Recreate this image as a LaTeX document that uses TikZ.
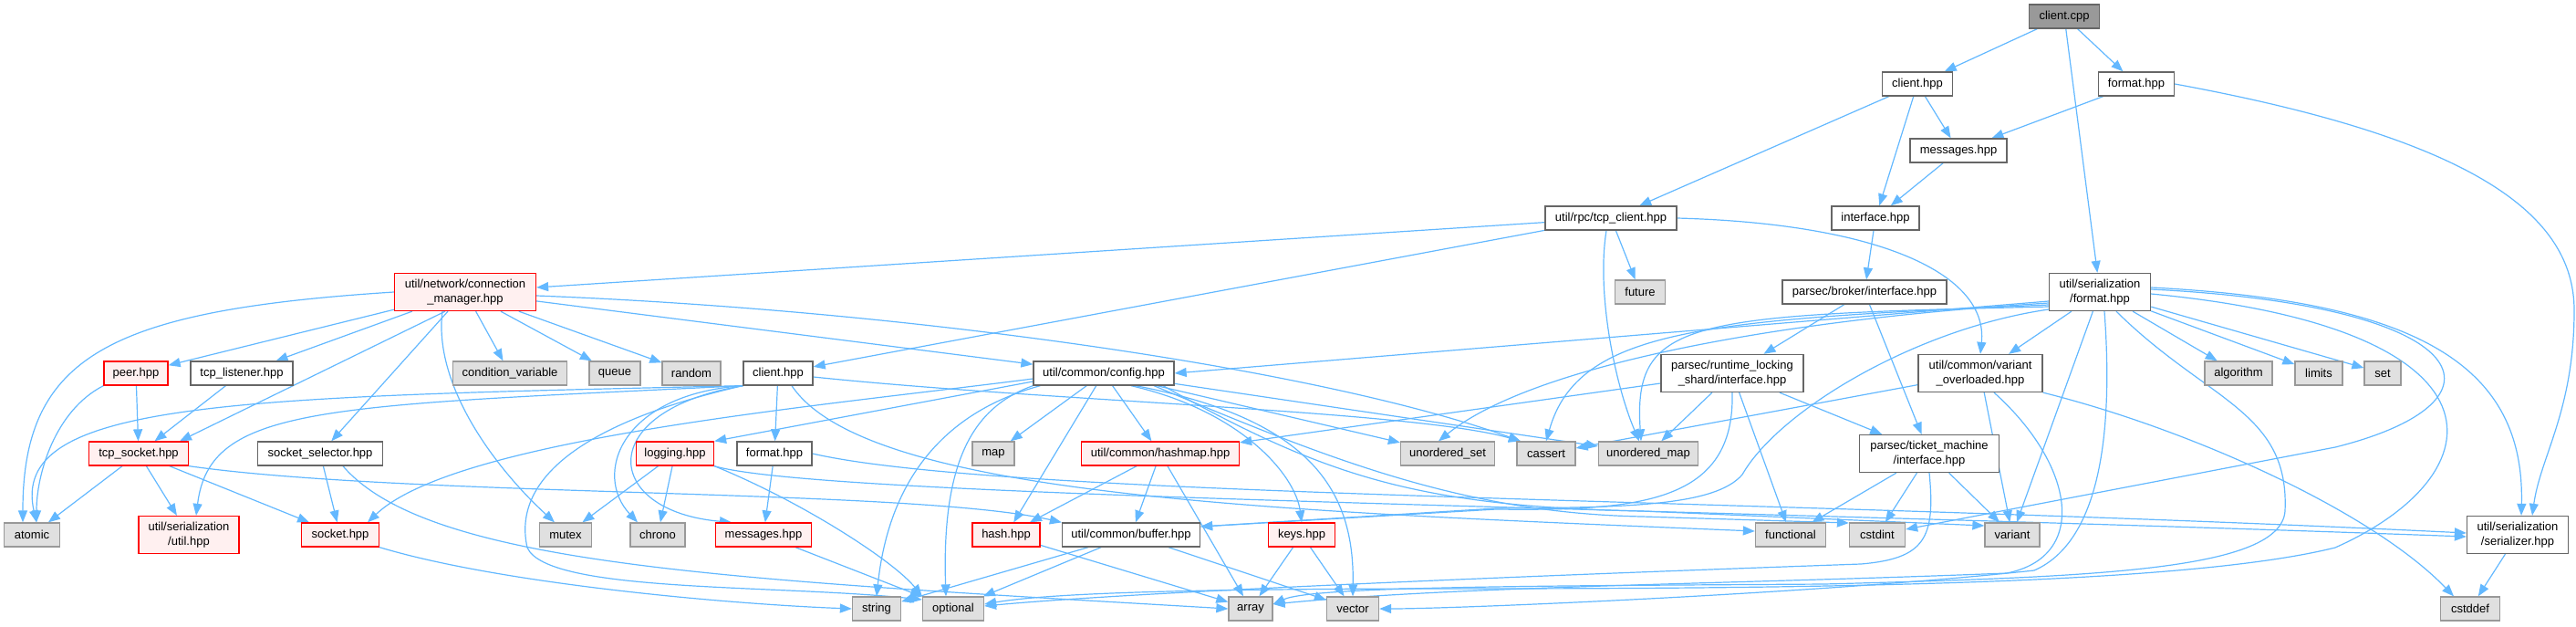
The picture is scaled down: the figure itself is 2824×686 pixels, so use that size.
\documentclass[tikz,border=0pt]{standalone}
\usepackage{fontspec}
\setmainfont{Liberation Sans}
\usetikzlibrary{arrows.meta}
\definecolor{edgec}{HTML}{63B8FF}
\definecolor{nborder}{HTML}{666666}
\definecolor{gborder}{HTML}{999999}
\definecolor{gfill}{HTML}{E0E0E0}
\definecolor{rfill}{HTML}{FFF0F0}
\definecolor{rborder}{HTML}{FF0000}
\definecolor{rootfill}{HTML}{999999}
\pgfdeclarelayer{bg}
\pgfsetlayers{bg,main}
\begin{document}
\begin{tikzpicture}[x=1pt,y=-1pt,
  base/.style={draw, line width=1.3pt, font=\fontsize{13}{16}\selectfont, inner sep=2pt, minimum height=26pt, align=center, anchor=center},
  plainbox/.style={base, draw=nborder, fill=white},
  redbox/.style={base, draw=rborder, fill=rfill},
  sysbox/.style={base, draw=gborder, fill=gfill},
  rootbox/.style={base, draw=nborder, fill=rootfill},
  tall/.style={minimum height=41pt},
  edge/.style={draw=edgec, line width=1.2pt, -{Triangle[length=13pt,width=10pt]}},
]
\useasboundingbox (0,0) rectangle (2824,686);
% nodes
\node[rootbox, minimum width=77pt] (cpp) at (2263,18) {client.cpp};
\node[plainbox, minimum width=77pt] (chtop) at (2102,92) {client.hpp};
\node[plainbox, minimum width=83pt] (fmttop) at (2342,92) {format.hpp};
\node[plainbox, minimum width=106pt] (msgtop) at (2147,165) {messages.hpp};
\node[plainbox, minimum width=144pt] (tcpc) at (1766,239) {util/rpc/tcp\_client.hpp};
\node[plainbox, minimum width=96pt] (iface) at (2056,239) {interface.hpp};
\node[redbox, tall, minimum width=155pt] (connmgr) at (510,320) {util/network/connection\\\_manager.hpp};
\node[sysbox, minimum width=55pt] (future) at (1798,320) {future};
\node[plainbox, minimum width=180pt] (broker) at (2044,320) {parsec/broker/interface.hpp};
\node[plainbox, tall, minimum width=111pt] (serfmt) at (2302,320) {util/serialization\\/format.hpp};
\node[redbox, minimum width=70pt] (peer) at (149,409) {peer.hpp};
\node[plainbox, minimum width=112pt] (tcpl) at (265,409) {tcp\_listener.hpp};
\node[sysbox, minimum width=125pt] (condvar) at (559,409) {condition\_variable};
\node[sysbox, minimum width=56pt] (queue) at (674,409) {queue};
\node[sysbox, minimum width=64pt] (random) at (758,409) {random};
\node[plainbox, minimum width=76pt] (chmid) at (853,409) {client.hpp};
\node[plainbox, minimum width=154pt] (config) at (1210,409) {util/common/config.hpp};
\node[plainbox, tall, minimum width=156pt] (rls) at (1899,409) {parsec/runtime\_locking\\\_shard/interface.hpp};
\node[plainbox, tall, minimum width=136pt] (varov) at (2171,409) {util/common/variant\\\_overloaded.hpp};
\node[sysbox, minimum width=74pt] (algorithm) at (2454,409) {algorithm};
\node[sysbox, minimum width=52pt] (limits) at (2542,409) {limits};
\node[sysbox, minimum width=40pt] (set) at (2612,409) {set};
\node[redbox, minimum width=109pt] (tcpsock) at (152,497) {tcp\_socket.hpp};
\node[plainbox, minimum width=137pt] (socksel) at (351,497) {socket\_selector.hpp};
\node[redbox, minimum width=85pt] (logging) at (740,497) {logging.hpp};
\node[plainbox, minimum width=82pt] (fmtmid) at (849,497) {format.hpp};
\node[sysbox, minimum width=46pt] (map) at (1089,497) {map};
\node[redbox, minimum width=173pt] (hashmap) at (1272,497) {util/common/hashmap.hpp};
\node[sysbox, minimum width=103pt] (uset) at (1587,497) {unordered\_set};
\node[sysbox, minimum width=64pt] (cassert) at (1695,497) {cassert};
\node[sysbox, minimum width=109pt] (umap) at (1807,497) {unordered\_map};
\node[plainbox, tall, minimum width=153pt] (ticket) at (2115,497) {parsec/ticket\_machine\\/interface.hpp};
\node[sysbox, minimum width=61pt] (atomic) at (35,586) {atomic};
\node[redbox, tall, minimum width=110pt] (serutil) at (207,586) {util/serialization\\/util.hpp};
\node[redbox, minimum width=85pt] (socket) at (373,586) {socket.hpp};
\node[sysbox, minimum width=57pt] (mutex) at (620,586) {mutex};
\node[sysbox, minimum width=60pt] (chrono) at (721,586) {chrono};
\node[redbox, minimum width=105pt] (msgmid) at (837,586) {messages.hpp};
\node[redbox, minimum width=74pt] (hash) at (1103,586) {hash.hpp};
\node[plainbox, minimum width=151pt] (buffer) at (1240,586) {util/common/buffer.hpp};
\node[redbox, minimum width=73pt] (keys) at (1427,586) {keys.hpp};
\node[sysbox, minimum width=77pt] (functional) at (1963,586) {functional};
\node[sysbox, minimum width=61pt] (cstdint) at (2058,586) {cstdint};
\node[sysbox, minimum width=60pt] (variant) at (2206,586) {variant};
\node[plainbox, tall, minimum width=111pt] (serializer) at (2760,586) {util/serialization\\/serializer.hpp};
\node[sysbox, minimum width=53pt] (string) at (961,667) {string};
\node[sysbox, minimum width=67pt] (optional) at (1045,667) {optional};
\node[sysbox, minimum width=48pt] (array) at (1371,667) {array};
\node[sysbox, minimum width=57pt] (vector) at (1483,667) {vector};
\node[sysbox, minimum width=65pt] (cstddef) at (2708,667) {cstddef};

\begin{pgfonlayer}{bg}
% top
\draw[edge] (cpp) -- (chtop);
\draw[edge] (cpp) -- (fmttop);
\draw[edge] (cpp) -- (serfmt);
\draw[edge] (chtop) -- (tcpc);
\draw[edge] (chtop) -- (msgtop);
\draw[edge] (chtop) -- (iface);
\draw[edge] (fmttop) -- (msgtop);
\draw[edge] (fmttop.east) .. controls (2700,150) and (2822,230) .. (2822,340) .. controls (2822,450) and (2785,500) .. ([xshift=16pt]serializer.north);
\draw[edge] (msgtop) -- (iface);
\draw[edge] (iface) -- (broker);
% tcp_client
\draw[edge] (tcpc) -- (connmgr);
\draw[edge] (tcpc) -- (chmid);
\draw[edge] (tcpc) -- (future);
\draw[edge] ([xshift=-5pt]tcpc.south) .. controls (1750,320) and (1770,420) .. ([xshift=-10pt]umap.north);
\draw[edge] (tcpc.east) .. controls (2060,245) and (2180,300) .. (varov.north);
% broker
\draw[edge] (broker) -- (rls);
\draw[edge] (broker) -- (ticket);
% connection manager
\draw[edge] (connmgr.west) .. controls (120,340) and (25,390) .. ([xshift=-10pt]atomic.north);
\draw[edge] (connmgr) -- (peer);
\draw[edge] (connmgr) -- (tcpl);
\draw[edge] ([xshift=-22pt]connmgr.south) -- ([xshift=45pt]tcpsock.north);
\draw[edge] (connmgr) -- (socksel);
\draw[edge] ([xshift=-25pt]connmgr.south) .. controls (475,420) and (540,510) .. ([xshift=-12pt]mutex.north);
\draw[edge] (connmgr) -- (condvar);
\draw[edge] (connmgr) -- (queue);
\draw[edge] (connmgr) -- (random);
\draw[edge] (connmgr) -- (config);
\draw[edge] ([yshift=-4pt]connmgr.east) .. controls (1000,340) and (1450,405) .. ([xshift=-28pt]cassert.north);
% peer, listener, tcp socket
\draw[edge] (peer) -- (tcpsock);
\draw[edge] (peer.south west) .. controls (60,450) and (40,520) .. ([xshift=5pt]atomic.north);
\draw[edge] (tcpl) -- (tcpsock);
\draw[edge] (tcpsock) -- (atomic);
\draw[edge] (tcpsock) -- (serutil);
\draw[edge] (tcpsock) -- (socket);
\draw[edge] (tcpsock.south east) .. controls (450,545) and (1000,535) .. (buffer.north west);
% socket selector, socket
\draw[edge] (socksel) -- (socket);
\draw[edge] ([xshift=25pt]socksel.south) .. controls (470,620) and (800,635) .. (array.west);
\draw[edge] (socket.south east) .. controls (550,640) and (800,662) .. (string.west);
% rpc client.hpp
\draw[edge] (chmid) -- (fmtmid);
\draw[edge] (chmid.south west) .. controls (650,450) and (660,560) .. ([xshift=-35pt]msgmid.north);
\draw[edge] (chmid.south west) .. controls (680,432) and (650,520) .. ([xshift=-22pt]chrono.north);
\draw[edge] (chmid.south west) .. controls (650,460) and (560,520) .. (578,600) .. controls (600,650) and (850,640) .. ([yshift=10pt]optional.west);
\draw[edge] (chmid.south west) .. controls (250,435) and (10,440) .. ([xshift=5pt]atomic.north);
\draw[edge] (chmid.south west) .. controls (350,445) and (230,445) .. ([xshift=8pt]serutil.north);
\draw[edge] ([yshift=-4pt]chmid.east) .. controls (1150,440) and (1550,450) .. ([xshift=-28pt]cassert.north);
\draw[edge] ([xshift=15pt]chmid.south) .. controls (950,545) and (1400,560) .. ([yshift=4pt]functional.west);
% config
\draw[edge] ([yshift=-6pt]config.west) .. controls (900,445) and (500,480) .. ([xshift=30pt]socket.north);
\draw[edge] ([yshift=-9pt]config.west) -- (logging.north east);
\draw[edge] ([xshift=8pt]config.south west) .. controls (1040,450) and (975,520) .. (string.north);
\draw[edge] (config.south west) .. controls (1070,445) and (1032,500) .. ([xshift=-8pt]optional.north);
\draw[edge] (config) -- (map);
\draw[edge] (config) -- (hash);
\draw[edge] (config) -- (hashmap);
\draw[edge] ([xshift=30pt]config.south) .. controls (1360,450) and (1420,520) .. (keys.north);
\draw[edge] ([xshift=35pt]config.south) .. controls (1440,460) and (1485,540) .. (vector.north);
\draw[edge] (config) -- (uset);
\draw[edge] (config) -- (umap);
\draw[edge] ([xshift=55pt]config.south) .. controls (1450,500) and (1600,562) .. (1800,566) -- ([yshift=13pt]cstdint.west);
\draw[edge] ([xshift=65pt]config.south) .. controls (1450,520) and (1550,555) .. (1800,560) -- ([yshift=10pt]variant.west);
% hashmap, hash, buffer, keys
\draw[edge] (hashmap) -- (hash);
\draw[edge] (hashmap) -- (buffer);
\draw[edge] (hashmap) -- (array);
\draw[edge] (hash) -- (array);
\draw[edge] (buffer) -- (optional);
\draw[edge] (buffer) -- (string);
\draw[edge] (buffer) -- (vector);
\draw[edge] (keys) -- (array);
\draw[edge] (keys) -- (vector);
% logging, format, messages
\draw[edge] (logging) -- (mutex);
\draw[edge] (logging) -- (chrono);
\draw[edge] (logging.south east) .. controls (880,550) and (980,615) .. (optional.north west);
\draw[edge] (logging.south east) .. controls (900,545) and (1800,555) .. ([yshift=-2pt]serializer.west);
\draw[edge] (fmtmid) -- (msgmid);
\draw[edge] (fmtmid.east) .. controls (1100,545) and (1900,545) .. ([yshift=2pt]serializer.west);
\draw[edge] (msgmid) -- (optional);
% runtime locking shard
\draw[edge] (rls) -- (hashmap);
\draw[edge] (rls) -- (umap);
\draw[edge] (rls.south) .. controls (1902,550) and (1800,560) .. (1640,558) -- ([yshift=9pt]buffer.east);
\draw[edge] (rls) -- (functional);
\draw[edge] (rls) -- (ticket);
% variant overloaded
\draw[edge] (varov) -- (cassert);
\draw[edge] (varov) -- (variant);
\draw[edge] (varov.south east) .. controls (2400,470) and (2600,560) .. ([xshift=-18pt]cstddef.north);
\draw[edge] ([xshift=15pt]varov.south) .. controls (2275,510) and (2290,610) .. (2200,628) .. controls (1900,640) and (1600,642) .. ([yshift=5pt]array.east);
% ticket machine
\draw[edge] (ticket) -- (functional);
\draw[edge] (ticket) -- (cstdint);
\draw[edge] (ticket) -- (variant);
\draw[edge] (ticket.south) .. controls (2122,590) and (2110,612) .. (2040,618) .. controls (1700,630) and (1250,648) .. ([yshift=3pt]optional.east);
% serialization format
\draw[edge] ([yshift=-10pt]serfmt.west) -- (config.east);
\draw[edge] ([yshift=-12pt]serfmt.west) .. controls (1950,350) and (1680,400) .. ([xshift=-10pt]uset.north);
\draw[edge] ([yshift=-14pt]serfmt.west) .. controls (1870,350) and (1730,360) .. (cassert.north);
\draw[edge] ([yshift=-16pt]serfmt.west) .. controls (1850,345) and (1790,350) .. ([xshift=-8pt]umap.north);
\draw[edge] ([yshift=-19pt]serfmt.west) .. controls (2100,360) and (1950,450) .. (1910,520) .. controls (1880,555) and (1780,556) .. (1640,557) -- ([yshift=9pt]buffer.east);
\draw[edge] (serfmt) -- (varov);
\draw[edge] (serfmt) -- (variant);
\draw[edge] ([xshift=5pt]serfmt.south) .. controls (2315,450) and (2310,590) .. (2230,625) .. controls (2000,650) and (1600,667) .. (vector.east);
\draw[edge] ([xshift=18pt]serfmt.south) .. controls (2420,440) and (2510,450) .. (2505,560) .. controls (2500,625) and (2300,632) .. (2000,640) .. controls (1700,642) and (1440,642) .. ([yshift=5pt]array.east);
\draw[edge] ([yshift=-2pt]serfmt.east) .. controls (2760,360) and (2740,520) .. (2560,600) .. controls (2400,640) and (2000,645) .. (1600,645) .. controls (1300,645) and (1150,650) .. ([yshift=5pt]optional.east);
\draw[edge] ([yshift=3pt]serfmt.east) .. controls (2720,335) and (2760,440) .. (2560,490) -- ([yshift=6pt]cstdint.east);
\draw[edge] ([yshift=5pt]serfmt.east) .. controls (2650,330) and (2768,400) .. ([xshift=4pt]serializer.north);
\draw[edge] (serfmt) -- (algorithm);
\draw[edge] (serfmt) -- (limits);
\draw[edge] (serfmt) -- (set);
% serializer
\draw[edge] (serializer) -- (cstddef);
\end{pgfonlayer}
\end{tikzpicture}
\end{document}
